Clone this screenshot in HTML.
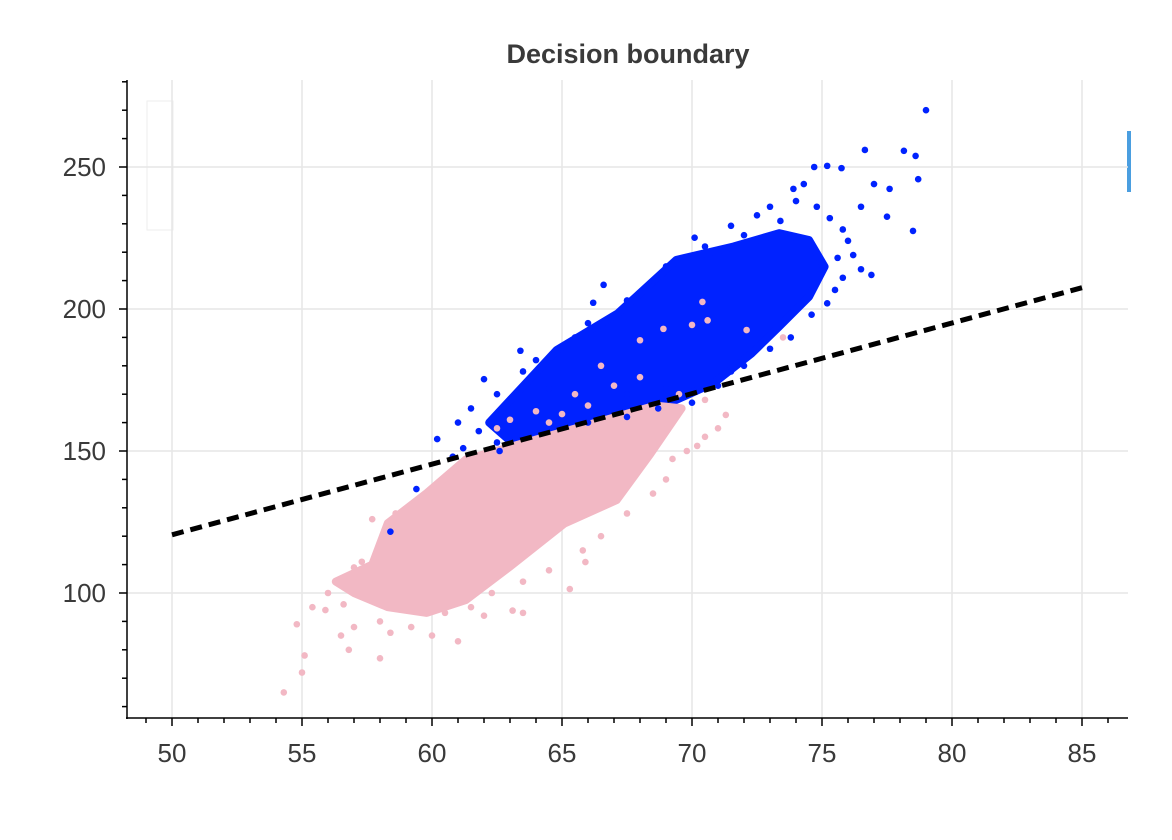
<!DOCTYPE html>
<html><head><meta charset="utf-8">
<style>
html,body{margin:0;padding:0;background:#fff;}
svg{display:block;font-family:"Liberation Sans",sans-serif;}
</style></head>
<body>
<svg id="chart" width="1172" height="840" viewBox="0 0 1172 840" xmlns="http://www.w3.org/2000/svg">
<text x="628" y="63" text-anchor="middle" font-size="27" font-weight="bold" fill="#3a3a3a">Decision boundary</text>
<rect x="147" y="101" width="26" height="129" fill="none" stroke="#eee" stroke-width="1"/>
<rect x="1127" y="131" width="4" height="61" fill="#4a9ee0"/>
<g id="grid"></g>
<g id="marks"></g>
<g id="axes"></g>
</svg>
<script>
const xTicks=[50,55,60,65,70,75,80,85];
const yTicks=[100,150,200,250];
const boundaryX=[50,85];
const boundaryY=[120.5,207.5];
const blueCore=[[62.2,160],[64.8,185.6],[67.15,198.5],[69.4,217.3],[71.6,222],[73.35,226.7],[74.5,224.3],[75.1,214.9],[74.5,204.3],[73.35,193.8],[72.3,184.4],[70.85,174],[69.4,168],[67.15,162],[65.1,156],[63.2,152]];
const pinkCore=[[61.3,147],[64,154],[66.5,160.5],[68.6,166],[69.6,165],[68.4,149],[67.1,132.7],[65.1,124.5],[63,109.3],[61.3,97.5],[59.8,93],[58.3,95],[57,100],[56.3,104],[57.7,110],[58.3,124.6],[59.8,135.2]];
const bluePts=[[79,270],[62,175.3],[60.2,154.2],[59.4,136.6],[58.4,121.6],[63.4,185.3],[66.6,208.5],[66.2,202.2],[70.1,225.1],[71.5,229.3],[73.9,242.3],[76.65,256],[78.15,255.7],[78.6,253.9],[78.7,245.7],[78.5,227.5],[76.9,212],[76.5,214],[75.5,206.7],[77.6,242.3],[77.5,232.5],[74.7,250],[75.2,250.4],[75.75,249.6],[61,160],[61.5,165],[62.5,170],[63.5,178],[64,182],[65.5,190],[66,195],[67.5,203],[68.5,210],[69,215],[70.5,222],[72,226],[72.5,233],[73,236],[74,238],[74.8,236],[75.3,232],[75.8,228],[76,224],[76.2,219],[75.6,218],[75.8,211],[75.2,202],[74.6,198],[73.8,190],[73,186],[72,180],[71,173],[70,167],[68.7,165],[67.5,162],[66,160],[64.5,158],[63.5,155],[62.5,153],[61.8,157],[67.5,170],[69,172],[71.5,178],[76.5,236],[77,244],[74.3,244],[73.4,231],[62.6,150],[61.2,151],[60.8,148],[63,163],[64.5,172]];
const pinkPts=[[70.4,202.5],[70.6,196],[68.9,193],[68,189],[70,194.4],[73.5,190],[72.1,192.6],[70.2,151.8],[71.3,162.7],[69.25,147.2],[65.9,110.9],[65.3,101.4],[63.1,93.8],[54.3,65],[55,72],[55.1,78],[54.8,89],[55.4,95],[56,100],[57,88],[56.8,80],[58,90],[56.5,85],[57.5,98],[58,77],[60,85],[61,83],[62,92],[63.5,93],[57.3,111],[57,109],[59,96],[58.6,128],[57.7,126],[64.5,160],[65,163],[66,166],[67,173],[68,176],[66.5,180],[65.5,170],[64,164],[63,161],[62.5,158],[69.5,170],[70.5,168],[71,158],[70.5,155],[69.8,150],[69,140],[68.5,135],[67.5,128],[66.5,120],[65.8,115],[64.5,108],[63.5,104],[62.3,100],[60.5,93],[59.2,88],[58.4,86],[55.9,94],[56.6,96],[57.2,103],[58.2,118],[59.3,131],[60.4,140],[61,144],[60,98],[61.5,95]];

const NS="http://www.w3.org/2000/svg";
const L=127,R=1128,T=80,B=718;
function sx(v){return 172+(v-50)*26;}
function sy(v){return 593-(v-100)*2.84;}
function mk(tag,attrs,parent){const e=document.createElementNS(NS,tag);for(const k in attrs)e.setAttribute(k,attrs[k]);parent.appendChild(e);return e;}
const grid=document.getElementById('grid'),marks=document.getElementById('marks'),axes=document.getElementById('axes');
xTicks.forEach(t=>{const l=mk('line',{x1:sx(t),x2:sx(t),y1:T,y2:B,stroke:'#e6e6e6','stroke-width':1.5},grid);

});
yTicks.forEach(t=>{const l=mk('line',{x1:L,x2:R,y1:sy(t),y2:sy(t),stroke:'#e6e6e6','stroke-width':1.5},grid);

});
function poly(arr,color,name){const p=mk('polygon',{points:arr.map(d=>sx(d[0])+','+sy(d[1])).join(' '),fill:color,stroke:color,'stroke-width':8,'stroke-linejoin':'round'},marks);

}
function dots(arr,color,name){arr.forEach(d=>{const c=mk('circle',{cx:sx(d[0]),cy:sy(d[1]),r:3.3,fill:color},marks);

});}
poly(blueCore,'#0022ff','blue-cluster-core');
poly(pinkCore,'#f2b8c4','pink-cluster-core');
dots(bluePts,'#0022ff','blue-point');
dots(pinkPts,'#f2b8c4','pink-point');
const bl=mk('line',{x1:sx(boundaryX[0]),y1:sy(boundaryY[0]),x2:sx(boundaryX[1]),y2:sy(boundaryY[1]),stroke:'#000','stroke-width':5,'stroke-dasharray':'12,7'},marks);


mk('line',{x1:L,x2:L,y1:T,y2:B+1,stroke:'#000','stroke-width':1.5},axes);
mk('line',{x1:L-1,x2:R,y1:B,y2:B,stroke:'#000','stroke-width':1.5},axes);
for(let v=49;v<=86;v++){const big=v%5===0;mk('line',{x1:sx(v),x2:sx(v),y1:B,y2:B+(big?8:5),stroke:'#000','stroke-width':1.5},axes);}
for(let v=60;v<=280;v+=10){const big=v%50===0;mk('line',{x1:L-(big?8:5),x2:L,y1:sy(v),y2:sy(v),stroke:'#000','stroke-width':1.5},axes);}
xTicks.forEach(t=>{const e=mk('text',{x:sx(t),y:762,'text-anchor':'middle','font-size':26,fill:'#3a3a3a'},axes);e.textContent=t;

});
yTicks.forEach(t=>{const e=mk('text',{x:106,y:sy(t)+9,'text-anchor':'end','font-size':26,fill:'#3a3a3a'},axes);e.textContent=t;

});
</script>
</body></html>
